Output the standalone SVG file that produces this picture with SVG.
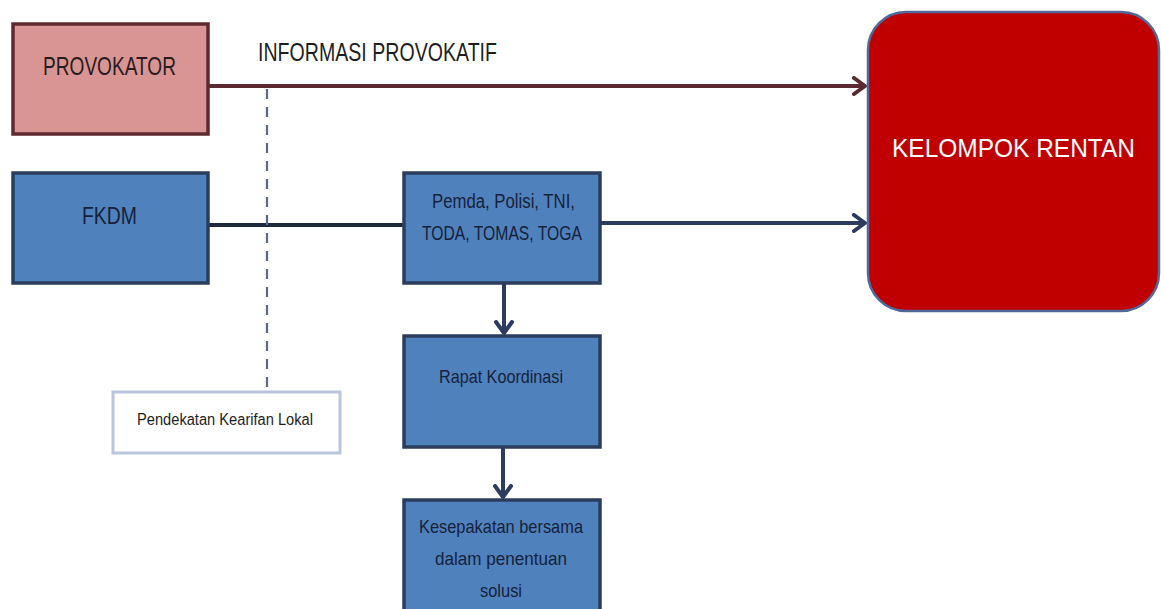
<svg xmlns="http://www.w3.org/2000/svg" width="1161" height="609" viewBox="0 0 1161 609">
<defs>
<style>
.t{font-family:"Liberation Sans",Arial,sans-serif;}
.blue{fill:#4f81bd;stroke:#2b3d5c;stroke-width:3.5;}
.bt{fill:#16223a;}
.conn{fill:none;stroke-width:4;}
</style>
<marker id="ahR" viewBox="0 0 16 20" refX="13" refY="10" markerWidth="16" markerHeight="20" markerUnits="userSpaceOnUse" orient="auto">
<path d="M2,2 L13,10 L2,18" fill="none" stroke="#5a2a30" stroke-width="4" stroke-linecap="round" stroke-linejoin="round"/>
</marker>
<marker id="ahB" viewBox="0 0 16 20" refX="13" refY="10" markerWidth="16" markerHeight="20" markerUnits="userSpaceOnUse" orient="auto">
<path d="M2,2 L13,10 L2,18" fill="none" stroke="#2c3b5e" stroke-width="4" stroke-linecap="round" stroke-linejoin="round"/>
</marker>
</defs>
<rect width="1161" height="609" fill="#ffffff"/>
<g id="connectors">
<line class="conn" x1="208" y1="86" x2="865" y2="86" stroke="#5a2a30" marker-end="url(#ahR)"/>
<line class="conn" x1="208" y1="225" x2="404" y2="225" stroke="#1f2a3c"/>
<line class="conn" x1="600" y1="223" x2="865" y2="223" stroke="#2c3b5e" marker-end="url(#ahB)"/>
<line class="conn" x1="504" y1="283" x2="504" y2="333" stroke="#2c3b5e" marker-end="url(#ahB)"/>
<line class="conn" x1="503" y1="447" x2="503" y2="497" stroke="#2c3b5e" marker-end="url(#ahB)"/>
<line x1="267" y1="89" x2="267" y2="392" stroke="#5b6a82" stroke-width="2.2" stroke-dasharray="10 8"/>
<text class="t" x="258" y="61" font-size="25" fill="#1e1e1e" textLength="239" lengthAdjust="spacingAndGlyphs">INFORMASI PROVOKATIF</text>
</g>
<g id="provokator">
<rect x="13" y="24" width="195" height="110" fill="#d99594" stroke="#5e2a2e" stroke-width="3.5"/>
<text class="t" x="43" y="75" font-size="25" fill="#2a1c1c" textLength="133" lengthAdjust="spacingAndGlyphs">PROVOKATOR</text>
</g>
<g id="fkdm">
<rect class="blue" x="13" y="173" width="195" height="110"/>
<text class="t bt" x="82" y="224" font-size="24" textLength="55" lengthAdjust="spacingAndGlyphs">FKDM</text>
</g>
<g id="pemda">
<rect class="blue" x="404" y="173" width="196" height="110"/>
<text class="t bt" x="432" y="208" font-size="20" textLength="143" lengthAdjust="spacingAndGlyphs">Pemda, Polisi, TNI,</text>
<text class="t bt" x="422" y="240" font-size="20" textLength="160" lengthAdjust="spacingAndGlyphs">TODA, TOMAS, TOGA</text>
</g>
<g id="rapat">
<rect class="blue" x="404" y="336" width="196" height="111"/>
<text class="t bt" x="439" y="383" font-size="19" textLength="124" lengthAdjust="spacingAndGlyphs">Rapat Koordinasi</text>
</g>
<g id="kesepakatan">
<rect class="blue" x="404" y="500" width="196" height="115"/>
<text class="t bt" x="419" y="533" font-size="19" textLength="164" lengthAdjust="spacingAndGlyphs">Kesepakatan bersama</text>
<text class="t bt" x="435" y="565" font-size="19" textLength="132" lengthAdjust="spacingAndGlyphs">dalam penentuan</text>
<text class="t bt" x="480" y="597" font-size="19" textLength="42" lengthAdjust="spacingAndGlyphs">solusi</text>
</g>
<g id="pendekatan">
<rect x="113" y="392" width="227" height="61" fill="#ffffff" stroke="#b9c5dc" stroke-width="3"/>
<text class="t" x="137" y="425" font-size="16" fill="#1e1e1e" textLength="176" lengthAdjust="spacingAndGlyphs">Pendekatan Kearifan Lokal</text>
</g>
<g id="kelompok">
<rect x="868" y="12" width="291" height="299" rx="38" ry="38" fill="#c00000" stroke="#4f6a9a" stroke-width="2.5"/>
<text class="t" x="1013.5" y="157" font-size="26" fill="#ffffff" text-anchor="middle" textLength="243" lengthAdjust="spacingAndGlyphs">KELOMPOK RENTAN</text>
</g>
</svg>
